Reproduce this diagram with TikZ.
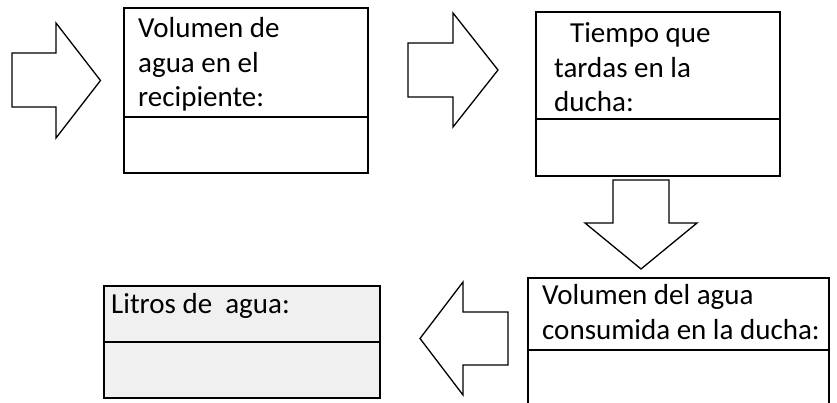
\documentclass[tikz,border=0pt]{standalone}
\usepackage{fontspec}
\setmainfont{Carlito}
\definecolor{boxgray}{HTML}{F0F0F0}
\begin{document}
\begin{tikzpicture}[x=1pt,y=-1pt,
  box/.style={draw=black,line width=1.6pt,inner sep=0pt,anchor=north west},
  blk/.style={draw=black,line width=1.3pt,line join=miter,fill=white},
  txt/.style={inner sep=0pt,anchor=base west,font=\fontsize{29}{35}\selectfont}]
\useasboundingbox (0,0) rectangle (837,403);
\clip (0,0) rectangle (837,403);

% boxes
\node[box,minimum width=244pt,minimum height=165pt] (b1) at (123,7) {};
\draw[line width=1.6pt] (b1.west |- 0,117) -- (b1.east |- 0,117);
\node[txt] (t1a) at (138,38) {Volumen de};
\node[txt] (t1b) at (138,73) {agua en el};
\node[txt] (t1c) at (138,107) {recipiente:};

\node[box,minimum width=244pt,minimum height=164pt] (b2) at (535,11) {};
\draw[line width=1.6pt] (b2.west |- 0,119) -- (b2.east |- 0,119);
\node[txt] (t2a) at (570,43) {Tiempo que};
\node[txt] (t2b) at (554,78) {tardas en la};
\node[txt] (t2c) at (554,112) {ducha:};

\node[box,minimum width=301pt,minimum height=135pt] (b3) at (527,277) {};
\draw[line width=1.6pt] (b3.west |- 0,350) -- (b3.east |- 0,350);
\node[txt] (t3a) at (542,304) {Volumen del agua};
\node[txt] (t3b) at (542,339) {consumida en la ducha:};

\node[box,fill=boxgray,minimum width=276pt,minimum height=112pt] (b4) at (103,285) {};
\draw[line width=1.6pt] (b4.west |- 0,342) -- (b4.east |- 0,342);
\node[txt] (t4a) at (111,313) {Litros de\ \ agua:};

% block arrows
\draw[blk] (12,53) -- (56,53) -- (56,23) -- (100.5,80.5) -- (56,138) -- (56,107) -- (12,107) -- cycle;
\draw[blk] (408,43) -- (453,43) -- (453,13) -- (498,70) -- (453,127) -- (453,97) -- (408,97) -- cycle;
\draw[blk] (613,180) -- (669,180) -- (669,223) -- (697,223) -- (641,269) -- (585,223) -- (613,223) -- cycle;
\draw[blk] (508,312) -- (463,312) -- (463,282) -- (420,338.5) -- (463,395) -- (463,365) -- (508,365) -- cycle;
\end{tikzpicture}
\end{document}
